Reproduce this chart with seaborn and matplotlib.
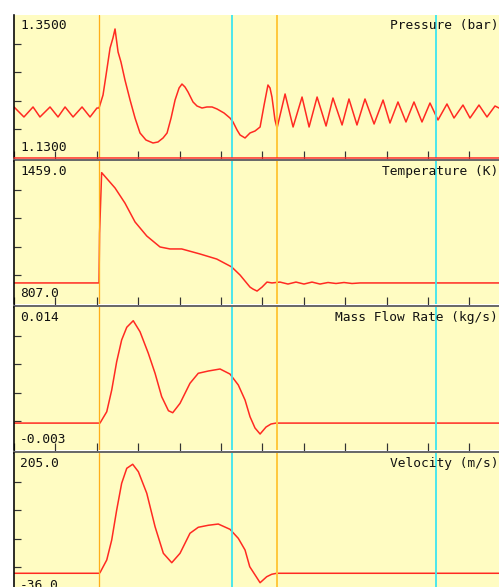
import numpy as np
import pandas as pd
import matplotlib
matplotlib.use("Agg")
import matplotlib.pyplot as plt
import seaborn as sns

# ---------------- data (x in crank-angle-like units, ticks every 30) ----------------
p_x = [0, 7.2, 13.8, 18.8, 26.1, 31.9, 37.0, 42.8, 49.3, 55.1, 60.1, 61.6,
       64.5, 66.7, 69.6, 71.7, 73.2, 75.4, 77.5, 80.4, 84.1, 87.7, 91.3, 95.6,
       100.7, 104.3, 108.0, 110.9, 113.8, 116.7, 119.6, 121.7, 123.9, 126.1,
       129.7, 132.6, 136.2, 139.8, 143.5, 147.1, 152.2, 156.5, 158.7, 161.6,
       163.8, 167.4, 171.0, 174.6, 178.3, 181.2, 184.0, 185.5, 186.9, 189.1,
       190.6, 196.4, 202.2, 208.7, 213.8, 219.6, 226.1, 231.1, 237.7, 242.7,
       248.5, 254.3, 260.9, 267.4, 272.4, 278.2, 284.0, 289.8, 295.6, 301.4,
       307.2, 313.7, 318.8, 325.3, 330.4, 336.9, 342.7, 348.5, 351.4]
pressure = [1.2085, 1.1931, 1.2085, 1.1931, 1.2085, 1.1931, 1.2085, 1.1931,
            1.2085, 1.1931, 1.2069, 1.2069, 1.2269, 1.2577, 1.2992, 1.3146,
            1.3285, 1.2931, 1.2777, 1.2500, 1.2192, 1.1915, 1.1685, 1.1577,
            1.1531, 1.1546, 1.1608, 1.1685, 1.1915, 1.2192, 1.2377, 1.2438,
            1.2392, 1.2315, 1.2162, 1.2100, 1.2069, 1.2085, 1.2085, 1.2054,
            1.1992, 1.1915, 1.1854, 1.1731, 1.1654, 1.1608, 1.1685, 1.1715,
            1.1777, 1.2115, 1.2423, 1.2377, 1.2238, 1.1885, 1.1762,
            1.2285, 1.1777, 1.2238, 1.1777, 1.2238, 1.1792, 1.2223, 1.1808,
            1.2208, 1.1808, 1.2208, 1.1823, 1.2192, 1.1838, 1.2162, 1.1854,
            1.2162, 1.1854, 1.2146, 1.1885, 1.2131, 1.1915, 1.2115, 1.1915,
            1.2115, 1.1931, 1.2100, 1.2069]

t_x = [0, 61.6, 62.0, 63.5, 73.2, 80.4, 87.7, 96.2, 105.8, 113.0, 121.5,
       134.8, 146.9, 157.7, 163.8, 171.0, 173.2, 176.1, 179.7, 183.3, 186.9,
       192.7, 198.5, 204.3, 210.1, 215.9, 221.7, 227.5, 233.3, 239.1, 244.9,
       250.7, 351.4]
temperature = [903, 903, 1130, 1406, 1336, 1267, 1181, 1117, 1067, 1058, 1058,
               1035, 1012, 976, 939, 884, 875, 866, 884, 907, 903,
               907, 898, 907, 898, 907, 898, 905, 900.5, 905, 900.5,
               903, 903]

m_x = [0, 61.6, 62.3, 67.2, 70.8, 74.4, 78.0, 81.7, 86.4, 91.3, 97.3, 102.2,
       107.0, 111.9, 115.0, 120.3, 127.5, 133.5, 140.8, 149.3, 156.5, 162.5,
       167.4, 171.0, 174.6, 178.3, 182.6, 186.2, 189.8, 351.4]
mass_flow = [0.0002, 0.0002, 0.0002, 0.00155, 0.00413, 0.00750, 0.01008,
             0.01159, 0.01237, 0.01106, 0.00850, 0.00612, 0.00334, 0.00167,
             0.00143, 0.00255, 0.00493, 0.00612, 0.00639, 0.00663, 0.00603,
             0.00473, 0.00294, 0.00096, -0.00038, -0.00110, -0.00027,
             0.00009, 0.0002, 0.0002]

v_x = [0, 61.6, 62.3, 67.2, 70.8, 74.4, 78.0, 81.7, 86.0, 90.1, 96.2, 102.2,
       108.2, 114.3, 120.3, 127.5, 133.5, 140.8, 148.0, 156.5, 162.5, 167.4,
       170.8, 178.3, 183.1, 186.7, 190.3, 351.4]
velocity = [2.3, 2.3, 3.3, 24.7, 58.4, 108.9, 153.9, 179.2, 186.0, 173.5,
            137.1, 80.8, 36.0, 20.1, 36.0, 69.7, 79.8, 83.2, 85.3, 76.4, 61.2,
            41.5, 13.4, -13.6, -3.5, 0.6, 2.3, 2.3]

titles = ["Pressure (bar)", "Temperature (K)", "Mass Flow Rate (kg/s)", "Velocity (m/s)"]
y_limits = [(1.13, 1.35), (807.0, 1459.0), (-0.003, 0.014), (-36.0, 205.0)]
top_labels = ["1.3500", "1459.0", "0.014", "205.0"]
bottom_labels = ["1.1300", "807.0", "-0.003", "-36.0"]
orange_marks = [61.6, 190.3]
cyan_marks = [158.0, 305.8]
x_limits = (0, 351.4)
x_tick_step = 30

series = [(p_x, pressure), (t_x, temperature), (m_x, mass_flow), (v_x, velocity)]

# ---------------- figure ----------------
sns.set_style("white")
plt.rcParams["font.family"] = ["DejaVu Sans Mono", "DejaVu Sans"]

W, H = 499, 587
fig = plt.figure(figsize=(W / 100, H / 100), dpi=100)
fig.patch.set_facecolor("white")

bg = "#fffcc2"
red = "#ff2a22"
px = 72 / 100  # points per pixel

left_px, top_px, pitch_px, height_px = 14, 15, 146, 143
for i, ((xs, ys), title, (y0, y1), tl, bl) in enumerate(
        zip(series, titles, y_limits, top_labels, bottom_labels)):
    top = top_px + i * pitch_px
    ax = fig.add_axes([left_px / W, 1 - (top + height_px) / H,
                       (W - left_px) / W, height_px / H])
    ax.set_facecolor(bg)
    df = pd.DataFrame({"x": xs, "y": ys})
    sns.lineplot(data=df, x="x", y="y", ax=ax, color=red, lw=1.1,
                 estimator=None, sort=False, zorder=2)
    for xv in orange_marks:
        c = "#ffae1a" if xv < 100 else "#ffc83c"
        lw = 1.0 if xv < 100 else 1.5
        ax.axvline(xv, color=c, lw=lw * px * 1.3, zorder=3)
    for xv in cyan_marks:
        ax.axvline(xv, color="#3ee6f0", lw=1.4 * px * 1.3, zorder=3)
    ax.set_xlim(*x_limits)
    ax.set_ylim(y0, y1)
    ax.set_xlabel("")
    ax.set_ylabel("")
    ax.set_xticks(np.arange(x_limits[0], x_limits[1], x_tick_step))
    ax.set_yticks(np.linspace(y0, y1, 6)[1:-1])
    ax.set_xticklabels([])
    ax.set_yticklabels([])
    ax.tick_params(axis="x", direction="in", length=9 * px, width=1.2 * px,
                   color="#333333", bottom=True, top=False)
    ax.tick_params(axis="y", direction="in", length=6.5 * px, width=1.2 * px,
                   color="#333333", left=True, right=False)
    for s in ("top", "right"):
        ax.spines[s].set_visible(False)
    ax.spines["left"].set_color("black")
    ax.spines["left"].set_linewidth(1.6 * px)
    ax.spines["bottom"].set_color("#6a6a6a")
    ax.spines["bottom"].set_linewidth(3 * px)
    ax.spines["bottom"].set_position(("outward", 1.5 * px))
    if i == 0:
        ax.axhline(y0, color=red, lw=1.5 * px, zorder=4, clip_on=False)
    fs = 9.3
    ax.annotate(tl, xy=(0, 1), xycoords="axes fraction", xytext=(6 * px, -4 * px),
                textcoords="offset points", ha="left", va="top", fontsize=fs,
                color="#111111")
    ax.annotate(bl, xy=(0, 0), xycoords="axes fraction", xytext=(6 * px, 4 * px),
                textcoords="offset points", ha="left", va="bottom", fontsize=fs,
                color="#111111")
    ax.annotate(title, xy=(1, 1), xycoords="axes fraction", xytext=(-1 * px, -4 * px),
                textcoords="offset points", ha="right", va="top", fontsize=fs,
                color="#111111", zorder=5)

fig.savefig("out.png", dpi=100, facecolor="white")
